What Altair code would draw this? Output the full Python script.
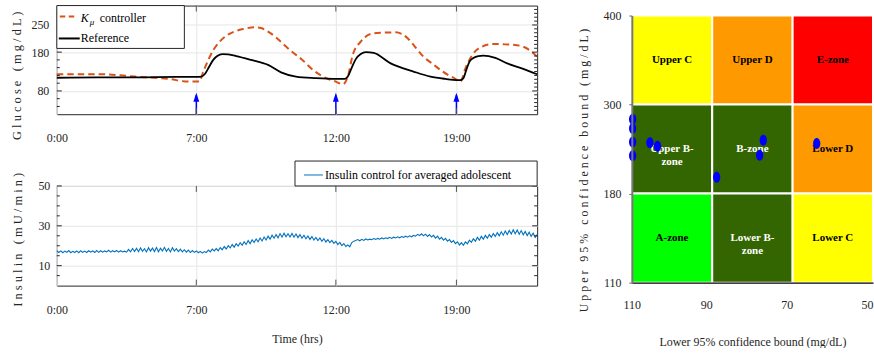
import altair as alt
import pandas as pd

SERIF = "Liberation Serif"
INK = "#262626"
ORANGE = "#D95319"
BLUE_LINE = "#0072BD"
BLUE = "#0000FF"

# ---------------- time axis (simulation step index) ----------------
tick_t = [0, 140, 280, 401]
tick_labels = ["0:00", "7:00", "12:00", "19:00"]
t_end = 482

# ---------------- glucose panel ----------------
ref_t = [0, 40, 80, 120, 140, 145, 149, 153, 157, 161, 166, 172, 180, 195, 212, 225, 240, 260, 280,
         289, 292, 296, 300, 305, 310, 318, 335, 358, 375, 390, 401, 405, 408, 411, 414, 418, 423,
         428, 440, 452, 468, 482]
ref_g = [114, 115, 115, 116, 116, 117, 125, 143, 160, 170, 175, 174, 170, 160, 147, 128, 117, 113, 111,
         111, 117, 140, 162, 175, 180, 178, 151, 130, 117, 111, 108, 108, 113, 135, 155, 165, 170,
         171, 165, 151, 137, 123]

kmu_t = [0, 45, 78, 112, 132, 143, 147, 152, 157, 162, 170, 178, 188, 198, 205, 212, 220, 228, 236,
         245, 258, 272, 280, 287, 292, 297, 305, 315, 325, 340, 352, 360, 368, 377, 385, 392, 398,
         405, 410, 417, 425, 438, 450, 458, 468, 476, 482]
kmu_g = [123, 123, 117, 111, 104, 104, 130, 160, 185, 203, 222, 233, 240, 244, 242, 233, 218, 199, 181,
         163, 132, 111, 104, 97, 117, 173, 207, 227, 230, 231, 216, 192, 168, 150, 134, 122, 114,
         104, 138, 173, 192, 201, 200, 199, 194, 182, 168]

meal_t = [140, 280, 401]
arrow_base = 20
arrow_tip = 75

glucose_major = [80, 180, 250]
glucose_minor_left = [40, 60, 100, 120, 140, 160, 200, 220, 240, 260, 280]
glucose_minor_right = [30, 40, 50, 60, 70, 90, 100, 110, 120, 130, 140, 150, 160, 170, 190, 200,
                       210, 220, 230, 240, 260, 270, 280, 290]

# ---------------- insulin panel ----------------
ins_t = list(range(0, 482, 2)) + [482]
ins_u = [17.5, 16.6, 17.4, 16.5, 17.3, 16.7, 17.6, 16.5, 17.2, 16.6,
         17.4, 16.5, 17.5, 16.7, 17.3, 16.6, 17.5, 16.8, 17.4, 16.6,
         17.6, 16.7, 17.5, 16.8, 17.4, 16.9, 17.7, 16.8, 17.5, 16.9,
         17.6, 16.8, 17.5, 16.9, 17.3, 16.8, 18.2, 17.0, 18.6, 17.1,
         18.7, 17.0, 18.9, 17.2, 18.5, 16.9, 19.0, 17.3, 18.8, 17.1,
         19.1, 17.0, 18.7, 17.4, 19.2, 17.2, 18.6, 16.9, 19.0, 17.3,
         18.5, 17.1, 18.3, 16.9, 18.0, 16.8, 17.8, 16.6, 17.6, 16.7,
         17.4, 16.5, 17.2, 16.3, 17.1, 16.6, 17.8, 16.9, 18.3, 17.4,
         18.6, 17.5, 19.1, 18.0, 19.6, 18.4, 20.0, 18.9, 20.6, 19.3,
         21.0, 19.8, 21.5, 20.2, 22.0, 20.6, 22.6, 21.1, 23.0, 21.6,
         23.4, 22.0, 23.9, 22.4, 24.4, 22.9, 24.8, 23.3, 25.3, 23.8,
         25.6, 24.0, 26.1, 24.3, 26.3, 24.5, 26.0, 24.4, 26.2, 24.3,
         25.9, 24.1, 25.6, 23.8, 25.3, 23.5, 24.9, 23.2, 24.6, 22.9,
         24.2, 22.6, 23.9, 22.2, 23.5, 21.9, 23.1, 21.6, 22.7, 21.2,
         22.2, 20.6, 21.7, 20.1, 21.1, 19.6, 20.4, 19.5, 21.6, 22.3,
         22.6, 23.1, 22.5, 23.2, 22.7, 23.4, 22.9, 23.3, 23.0, 23.6,
         23.2, 23.7, 23.3, 23.9, 23.4, 24.0, 23.6, 24.2, 23.7, 24.3,
         23.9, 24.5, 24.0, 24.6, 24.2, 24.8, 24.3, 25.0, 24.5, 25.2,
         24.8, 25.7, 25.1, 26.0, 25.0, 25.8, 24.7, 25.6, 24.4, 25.2,
         23.8, 24.8, 23.3, 24.2, 22.8, 23.7, 22.3, 23.1, 21.7, 22.6,
         21.1, 22.0, 20.4, 21.6, 20.2, 21.9, 21.0, 22.8, 21.7, 23.5,
         22.3, 24.2, 22.8, 24.7, 23.3, 25.2, 23.8, 25.6, 24.3, 26.1,
         24.7, 26.6, 25.0, 27.0, 25.3, 27.4, 25.6, 27.7, 25.9, 28.0,
         26.0, 27.9, 25.8, 27.6, 25.5, 27.2, 25.1, 26.8, 24.7, 26.3,
         24.2, 25.6]

insulin_major = [10, 30, 50]
insulin_minor = [5, 15, 20, 25, 35, 40, 45]

# ---------------- error-grid panel ----------------
zone_names = ["Upper C", "Upper D", "E-zone", "Upper B-\nzone", "B-zone", "Lower D",
              "A-zone", "Lower B-\nzone", "Lower C"]
zone_lo1 = [110, 90, 70, 110, 90, 70, 110, 90, 70]
zone_lo2 = [90, 70, 50, 90, 70, 50, 90, 70, 50]
zone_up1 = [300, 300, 300, 180, 180, 180, 110, 110, 110]
zone_up2 = [400, 400, 400, 300, 300, 300, 180, 180, 180]
zone_colors = ["#FFFF00", "#FF9900", "#FF0000", "#336600", "#336600", "#FF9900",
               "#00FF00", "#336600", "#FFFF00"]
zone_text_colors = ["black", "black", "black", "white", "white", "black", "black", "white", "black"]

pt_lower = [109.8, 109.8, 109.8, 109.8, 105.5, 103.6, 88.9, 78.2, 77.3, 64.0]
pt_upper = [280.3, 267.7, 249.7, 230.9, 248.4, 243.9, 201.9, 231.8, 252.0, 247.4]

lower_ticks = [110, 90, 70, 50]
upper_ticks = [110, 180, 300, 400]


def spaced(s):
    # letter-spaced title; word gaps kept with non-breaking spaces (SVG collapses runs of spaces)
    return " ".join("\u00A0" if c == " " else c for c in s)


time_expr = " : ".join(f"datum.value == {t} ? '{l}'" for t, l in zip(tick_t, tick_labels)) + " : ''"
one = alt.Data(values=[{"a": 1}])

# ================= glucose chart =================
TOP_W, TOP_H = 482, 109
t_scale = alt.Scale(domain=[0, t_end], nice=False, zero=False)
g_scale = alt.Scale(domain=[20, 300], nice=False, zero=False)
time_axis_top = alt.Axis(values=tick_t, labelExpr=time_expr, title=None, grid=True, ticks=False,
                         domain=False, labelPadding=18, labelFlush=False)
g_axis = alt.Axis(values=glucose_major, title=spaced("Glucose (mg/dL)"), grid=True, ticks=False,
                  domain=False, labelPadding=8, titlePadding=7, titleFontSize=12.5, titleY=70)


def tx(field="t"):
    return alt.X(f"{field}:Q", scale=t_scale, axis=time_axis_top)


def gy(field="g"):
    return alt.Y(f"{field}:Q", scale=g_scale, axis=g_axis)


ref_df = pd.DataFrame({"t": ref_t, "g": ref_g})
kmu_df = pd.DataFrame({"t": kmu_t, "g": kmu_g})
meal_df = pd.DataFrame({"t": meal_t, "g": [arrow_tip] * len(meal_t), "g0": [arrow_base] * len(meal_t),
                        "g1": [arrow_tip - 6] * len(meal_t)})

kmu_line = alt.Chart(kmu_df).mark_line(color=ORANGE, strokeWidth=2, strokeDash=[6.5, 4],
                                       interpolate="monotone").encode(x=tx(), y=gy())
ref_line = alt.Chart(ref_df).mark_line(color="black", strokeWidth=1.8,
                                       interpolate="monotone").encode(x=tx(), y=gy())
arrow_shaft = alt.Chart(meal_df).mark_rule(color=BLUE, strokeWidth=1.5).encode(
    x=tx(), y=gy("g0"), y2="g1:Q")
arrow_head = alt.Chart(meal_df).mark_point(shape="M0,0L0.65,2L-0.65,2Z", filled=True, size=81,
                                           color=BLUE, opacity=1).encode(x=tx(), y=gy())

gl_major_df = pd.DataFrame({"g": glucose_major})
gl_minl_df = pd.DataFrame({"g": glucose_minor_left})
gl_minr_df = pd.DataFrame({"g": glucose_minor_right})
t_ticks_df = pd.DataFrame({"t": tick_t[1:]})

top_ticks = [
    alt.Chart(gl_major_df).mark_rule(color=INK, strokeWidth=1).encode(
        y=gy(), x=alt.value(0), x2=alt.value(5)),
    alt.Chart(gl_major_df).mark_rule(color=INK, strokeWidth=1).encode(
        y=gy(), x=alt.value(TOP_W - 5), x2=alt.value(TOP_W)),
    alt.Chart(gl_minl_df).mark_rule(color=INK, strokeWidth=1).encode(
        y=gy(), x=alt.value(0), x2=alt.value(3)),
    alt.Chart(gl_minr_df).mark_rule(color=INK, strokeWidth=1).encode(
        y=gy(), x=alt.value(TOP_W - 3), x2=alt.value(TOP_W)),
    alt.Chart(t_ticks_df).mark_rule(color="#555555", strokeWidth=1).encode(
        x=tx(), y=alt.value(0), y2=alt.value(6)),
    alt.Chart(t_ticks_df).mark_rule(color="#555555", strokeWidth=1).encode(
        x=tx(), y=alt.value(TOP_H - 6), y2=alt.value(TOP_H)),
]

leg_top = [
    alt.Chart(one).mark_rect(fill="white", stroke=INK, strokeWidth=1).encode(
        x=alt.value(0), x2=alt.value(128), y=alt.value(0), y2=alt.value(43)),
    alt.Chart(one).mark_rule(color=ORANGE, strokeWidth=2, strokeDash=[5.5, 3.5]).encode(
        x=alt.value(3), x2=alt.value(21), y=alt.value(11)),
    alt.Chart(one).mark_text(text="K", font=SERIF, fontSize=12, fontStyle="italic", align="left",
                             baseline="middle", color="black").encode(x=alt.value(24), y=alt.value(12)),
    alt.Chart(one).mark_text(text="μ", font=SERIF, fontSize=9, fontStyle="italic", align="left",
                             baseline="middle", color="black").encode(x=alt.value(33), y=alt.value(16)),
    alt.Chart(one).mark_text(text="controller", font=SERIF, fontSize=12, align="left",
                             baseline="middle", color="black").encode(x=alt.value(43), y=alt.value(12)),
    alt.Chart(one).mark_rule(color="black", strokeWidth=2).encode(
        x=alt.value(2), x2=alt.value(23), y=alt.value(33)),
    alt.Chart(one).mark_text(text="Reference", font=SERIF, fontSize=12, align="left",
                             baseline="middle", color="black").encode(x=alt.value(24), y=alt.value(33)),
]

top = alt.layer(kmu_line, ref_line, arrow_shaft, arrow_head, *top_ticks, *leg_top).properties(
    width=TOP_W, height=TOP_H, view=alt.ViewBackground(stroke=INK, strokeWidth=1))

# ================= insulin chart =================
BOT_W, BOT_H = 482, 100
u_scale = alt.Scale(domain=[0, 50], nice=False, zero=False)
time_axis_bot = alt.Axis(values=tick_t, labelExpr=time_expr, title="Time (hrs)", grid=True,
                         ticks=False, domain=False, labelPadding=19, titlePadding=18,
                         labelFlush=False)
u_axis = alt.Axis(values=insulin_major, title=spaced("Insulin (mU/min)"), grid=True, ticks=False,
                  domain=False, labelPadding=7, titlePadding=13, titleFontSize=12.5, titleY=53.5)


def bx(field="t"):
    return alt.X(f"{field}:Q", scale=t_scale, axis=time_axis_bot)


def uy(field="u"):
    return alt.Y(f"{field}:Q", scale=u_scale, axis=u_axis)


ins_df = pd.DataFrame({"t": ins_t, "u": ins_u})
ins_line = alt.Chart(ins_df).mark_line(color=BLUE_LINE, strokeWidth=1.1).encode(x=bx(), y=uy())

in_major_df = pd.DataFrame({"u": insulin_major})
in_minor_df = pd.DataFrame({"u": insulin_minor})
bot_ticks = [
    alt.Chart(in_major_df).mark_rule(color=INK, strokeWidth=1).encode(
        y=uy(), x=alt.value(0), x2=alt.value(5)),
    alt.Chart(in_major_df).mark_rule(color=INK, strokeWidth=1).encode(
        y=uy(), x=alt.value(BOT_W - 5), x2=alt.value(BOT_W)),
    alt.Chart(in_minor_df).mark_rule(color=INK, strokeWidth=1).encode(
        y=uy(), x=alt.value(0), x2=alt.value(3)),
    alt.Chart(in_minor_df).mark_rule(color=INK, strokeWidth=1).encode(
        y=uy(), x=alt.value(BOT_W - 3), x2=alt.value(BOT_W)),
    alt.Chart(t_ticks_df).mark_rule(color="#555555", strokeWidth=1).encode(
        x=bx(), y=alt.value(0), y2=alt.value(6)),
    alt.Chart(t_ticks_df).mark_rule(color="#555555", strokeWidth=1).encode(
        x=bx(), y=alt.value(BOT_H - 6), y2=alt.value(BOT_H)),
]

leg_bot = [
    alt.Chart(one).mark_rect(fill="white", stroke=INK, strokeWidth=1).encode(
        x=alt.value(239), x2=alt.value(BOT_W), y=alt.value(-25), y2=alt.value(0)),
    alt.Chart(one).mark_rule(color=BLUE_LINE, strokeWidth=1).encode(
        x=alt.value(248), x2=alt.value(267), y=alt.value(-11)),
    alt.Chart(one).mark_text(text="Insulin control for averaged adolescent", font=SERIF, fontSize=12,
                             align="left", baseline="middle", color="black").encode(
        x=alt.value(269), y=alt.value(-11)),
]

bottom = alt.layer(ins_line, *bot_ticks, *leg_bot).properties(
    width=BOT_W, height=BOT_H, view=alt.ViewBackground(stroke=INK, strokeWidth=1))

# ================= error grid chart =================
EG_W, EG_H, EG_OFF = 242, 278, 10
lo_scale = alt.Scale(domain=[110, 50], range=[0, EG_W], nice=False, zero=False)
up_scale = alt.Scale(domain=upper_ticks, range=[EG_H, EG_OFF + (EG_H - EG_OFF) * 2 / 3,
                                                 EG_OFF + (EG_H - EG_OFF) / 3, EG_OFF],
                     nice=False, zero=False)
lo_axis = alt.Axis(values=lower_ticks, title="Lower 95% confidence bound (mg/dL)", grid=False,
                   ticks=False, domain=True, domainColor="black", domainWidth=1.5,
                   labelPadding=17, titlePadding=26, zindex=1, labelFlush=False,
                   labelAlign={"condition": {"test": "datum.value < 100", "value": "right"},
                               "value": "center"})
up_axis = alt.Axis(values=upper_ticks, title=spaced("Upper 95% confidence bound (mg/dL)"), grid=False,
                   ticks=True, tickSize=3, tickColor="#666666", domain=True, domainColor="#777777",
                   domainWidth=2, labelPadding=8, titlePadding=12, zindex=1, titleFontSize=12,
                   titleY=165)

zone_df = pd.DataFrame({
    "name": zone_names, "lo1": zone_lo1, "lo2": zone_lo2, "up1": zone_up1, "up2": zone_up2,
    "fill": zone_colors, "tc": zone_text_colors,
})
zone_df["lom"] = (zone_df["lo1"] + zone_df["lo2"]) / 2
zone_df["upm"] = (zone_df["up1"] + zone_df["up2"]) / 2
pts_df = pd.DataFrame({"lo1": pt_lower, "up1": pt_upper})

zones = alt.Chart(zone_df).mark_rect(stroke="white", strokeWidth=2).encode(
    x=alt.X("lo1:Q", scale=lo_scale, axis=lo_axis), x2="lo2:Q",
    y=alt.Y("up1:Q", scale=up_scale, axis=up_axis), y2="up2:Q",
    fill=alt.Fill("fill:N", scale=None))
zone_text = alt.Chart(zone_df).mark_text(font=SERIF, fontSize=11, fontWeight="bold", lineBreak="\n",
                                         lineHeight=13, align="center", baseline="middle").encode(
    x=alt.X("lom:Q", scale=lo_scale, axis=lo_axis),
    y=alt.Y("upm:Q", scale=up_scale, axis=up_axis),
    text="name:N", color=alt.Color("tc:N", scale=None))
pts = alt.Chart(pts_df).mark_point(shape="M-0.66,0A0.66,1 0 1,1 0.66,0A0.66,1 0 1,1 -0.66,0Z",
                                   filled=True, size=121, color=BLUE, opacity=1).encode(
    x=alt.X("lo1:Q", scale=lo_scale, axis=lo_axis),
    y=alt.Y("up1:Q", scale=up_scale, axis=up_axis))

grid_chart = alt.layer(zones, zone_text, pts).properties(
    width=EG_W, height=EG_H, view=alt.ViewBackground(stroke="transparent", strokeWidth=0))

left = alt.vconcat(top, bottom, spacing=16)
chart = alt.hconcat(left, grid_chart, spacing=36).properties(
    padding={"left": 10, "top": 4, "right": 0, "bottom": 0}
).configure_axis(
    labelFont=SERIF, titleFont=SERIF, labelFontSize=12, titleFontSize=12, titleFontWeight="normal",
    labelColor=INK, titleColor=INK, gridColor="#e6e6e6", gridWidth=1
).configure_view(strokeWidth=0)

chart.save("out.html", embed_options={"renderer": "svg", "actions": False})
